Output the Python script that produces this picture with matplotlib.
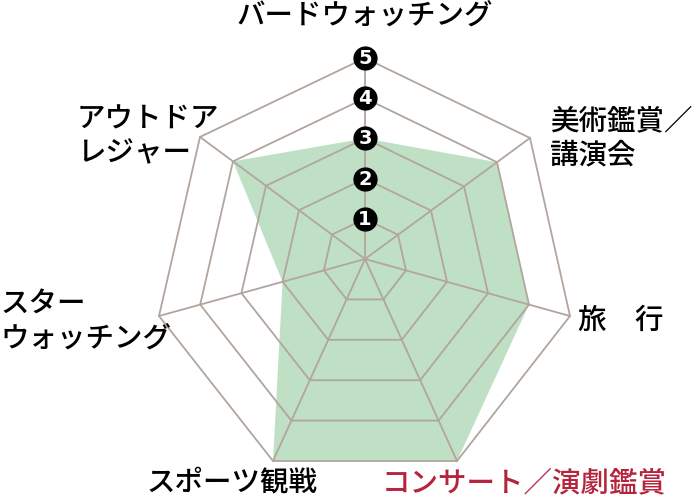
import matplotlib
matplotlib.use("Agg")
import matplotlib.pyplot as plt
import numpy as np

plt.rcParams['font.family'] = ['Noto Sans CJK JP', 'DejaVu Sans']

# 項目（上から時計回り）
categories = ["バードウォッチング", "美術鑑賞／講演会", "旅　行", "コンサート／演劇鑑賞",
              "スポーツ観戦", "スターウォッチング", "アウトドアレジャー"]
values = [3, 4, 4, 5, 5, 2, 4]
levels = [1, 2, 3, 4, 5]
level_max = 5

# 軸の向き（レベル5の位置、中心からのずれ・ピクセル）
cx, cy = 365, 259
spoke_dx = np.array([0, 165, 205, 92, -92, -206, -165])
spoke_dy = np.array([-201, -121, 57, 202, 202, 57, -122])

fill_color = "#bfe0c4"
grid_color = "#b2a59d"
red = "#b5243c"

fig = plt.figure(figsize=(6.95, 5.0), dpi=100)
ax = fig.add_axes([0, 0, 1, 1])
ax.set_xlim(0, 695)
ax.set_ylim(500, 0)
ax.axis("off")

def pos(v):
    v = np.asarray(v, dtype=float) / level_max
    return cx + spoke_dx * v, cy + spoke_dy * v

# データ
xs, ys = pos(values)
ax.fill(xs, ys, color=fill_color, lw=0, zorder=1)

# グリッド
for lv in levels:
    gx, gy = pos([lv] * len(categories))
    ax.plot(np.append(gx, gx[0]), np.append(gy, gy[0]), color=grid_color, lw=1.3, zorder=2)
for i in range(len(categories)):
    ax.plot([cx, cx + spoke_dx[i]], [cy, cy + spoke_dy[i]], color=grid_color, lw=1.3, zorder=2)

# 目盛りの丸数字
for lv in levels:
    mx, my = pos([lv] * len(categories))
    ax.scatter(mx[0], my[0], s=270, color="black", zorder=3)
    ax.text(mx[0], my[0] + 0.5, str(lv), color="white", fontsize=14, fontweight="bold",
            family=["Liberation Sans Narrow", "DejaVu Sans"], ha="center", va="center", zorder=4)

# ラベル
fs = 20.5
kw = dict(fontsize=fs, fontweight="medium")
ax.text(365, 15, "バードウォッチング", ha="center", va="center", **kw)
ax.text(550, 138, "美術鑑賞／\n講演会", ha="left", va="center", linespacing=1.2, **kw)
ax.text(578, 320, "旅　行", ha="left", va="center", **kw)
ax.text(524, 483, "コンサート／演劇鑑賞", ha="center", va="center", color=red, **kw)
ax.text(232, 483, "スポーツ観戦", ha="center", va="center", **kw)
ax.text(0, 321, "スター\nウォッチング", ha="left", va="center", linespacing=1.25, **kw)
ax.text(77, 136, "アウトドア\nレジャー", ha="left", va="center", linespacing=1.2, **kw)

fig.savefig("out.png", dpi=100)
